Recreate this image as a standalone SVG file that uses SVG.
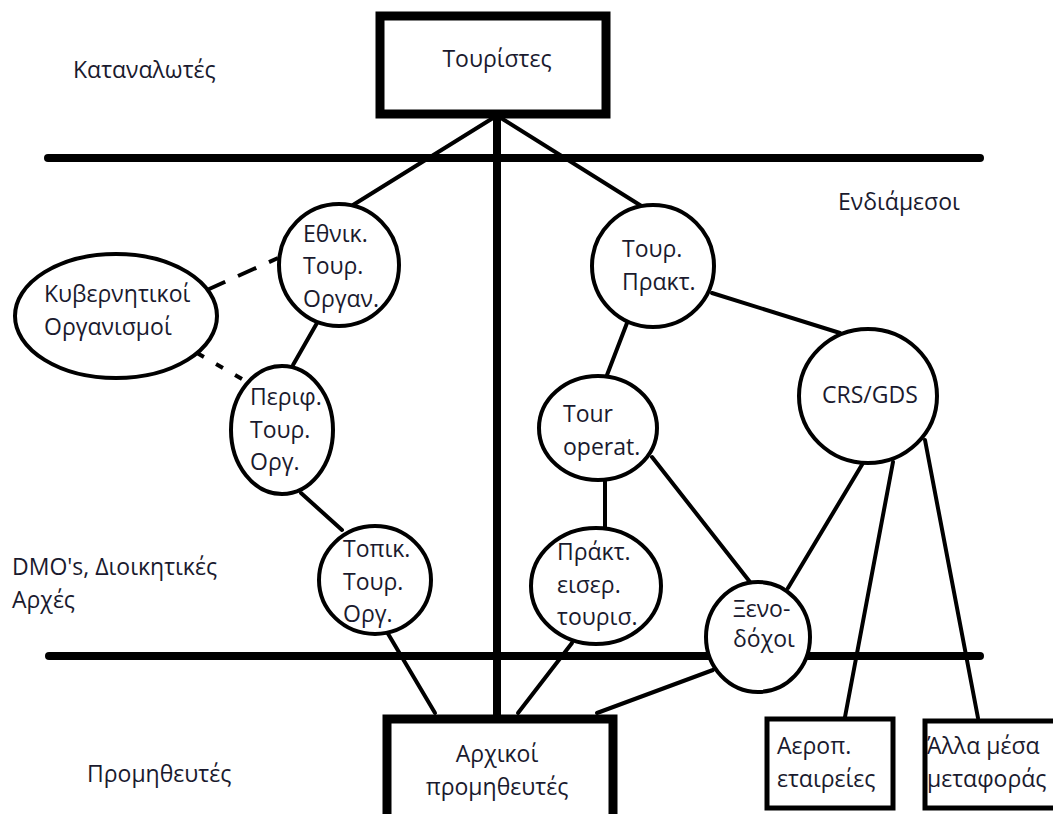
<svg xmlns="http://www.w3.org/2000/svg" width="1053" height="814" viewBox="0 0 1053 814">
<style>
text{font-family:"Open Sans","Noto Sans","DejaVu Sans",sans-serif;font-size:23px;fill:#1a1a2e}
.n{fill:#fff;stroke:#000;stroke-width:4}
.box{fill:#fff;stroke:#000;stroke-width:9}
.sbox{fill:#fff;stroke:#000;stroke-width:5}
.c{stroke:#000;stroke-width:4;fill:none;stroke-linecap:round}
.d{stroke:#000;stroke-width:4;fill:none;stroke-dasharray:20 14}
.d2{stroke:#000;stroke-width:4;fill:none;stroke-dasharray:8 14}
.sep{stroke:#000;stroke-width:8;fill:none;stroke-linecap:round}
</style>
<rect width="1053" height="814" fill="#fff"/>
<g id="layers">
<line class="sep" x1="48" y1="158" x2="980" y2="158"/>
<line class="sep" x1="49" y1="656" x2="980" y2="656"/>
<text x="73" y="78">Καταναλωτές</text>
<text x="838" y="210">Ενδιάμεσοι</text>
<text x="12" y="575">DMO's, Διοικητικές</text>
<text x="12" y="608">Αρχές</text>
<text x="87" y="782">Προμηθευτές</text>
</g>
<g id="connectors">
<line class="sep" x1="497" y1="117" x2="497" y2="716" stroke-linecap="butt"/>
<line class="c" x1="493" y1="118" x2="353" y2="205"/>
<line class="c" x1="501" y1="118" x2="643" y2="207"/>
<line class="d" x1="207" y1="290" x2="278" y2="258"/>
<line class="d2" x1="197" y1="353" x2="247" y2="382"/>
<line class="c" x1="317" y1="323" x2="293" y2="365"/>
<line class="c" x1="301" y1="493" x2="342" y2="530"/>
<line class="c" x1="387" y1="632" x2="435" y2="713"/>
<line class="c" x1="572" y1="643" x2="518" y2="713"/>
<line class="c" x1="713" y1="670" x2="597" y2="713"/>
<line class="c" x1="605" y1="480" x2="605" y2="527"/>
<line class="c" x1="652" y1="457" x2="750" y2="582"/>
<line class="c" x1="627" y1="323" x2="607" y2="375"/>
<line class="c" x1="712" y1="293" x2="840" y2="333"/>
<line class="c" x1="863" y1="463" x2="788" y2="588"/>
<line class="c" x1="893" y1="462" x2="845" y2="717"/>
<line class="c" x1="925" y1="440" x2="978" y2="718"/>
</g>
<g id="touristes">
<rect class="box" x="380" y="16" width="226" height="98"/>
<text x="497" y="67" text-anchor="middle">Τουρίστες</text>
</g>
<g id="ethnik">
<ellipse class="n" cx="339" cy="265" rx="60" ry="61"/>
<text x="303" y="242">Εθνικ.</text>
<text x="303" y="274">Τουρ.</text>
<text x="303" y="307">Οργαν.</text>
</g>
<g id="kyvern">
<ellipse class="n" cx="116" cy="316" rx="101" ry="62"/>
<text x="44" y="302">Κυβερνητικοί</text>
<text x="44" y="335">Οργανισμοί</text>
</g>
<g id="perif">
<ellipse class="n" cx="282" cy="430" rx="51" ry="64"/>
<text x="250" y="405">Περιφ.</text>
<text x="250" y="438">Τουρ.</text>
<text x="250" y="470">Οργ.</text>
</g>
<g id="topik">
<ellipse class="n" cx="375" cy="580" rx="56" ry="54"/>
<text x="343" y="557">Τοπικ.</text>
<text x="343" y="590">Τουρ.</text>
<text x="343" y="622">Οργ.</text>
</g>
<g id="tourprakt">
<ellipse class="n" cx="653" cy="266" rx="61" ry="61"/>
<text x="622" y="257">Τουρ.</text>
<text x="622" y="290">Πρακτ.</text>
</g>
<g id="touroperat">
<ellipse class="n" cx="598" cy="428" rx="59" ry="52"/>
<text x="563" y="422">Tour</text>
<text x="563" y="455">operat.</text>
</g>
<g id="crsgds">
<ellipse class="n" cx="868" cy="396" rx="69" ry="67"/>
<text x="822" y="403">CRS/GDS</text>
</g>
<g id="praktiseis">
<ellipse class="n" cx="596" cy="586" rx="65" ry="58"/>
<text x="557" y="560">Πράκτ.</text>
<text x="557" y="593">εισερ.</text>
<text x="557" y="625">τουρισ.</text>
</g>
<g id="xenodoxoi">
<ellipse class="n" cx="758" cy="637" rx="52" ry="55"/>
<text x="733" y="617">Ξενο-</text>
<text x="733" y="647">δόχοι</text>
</g>
<g id="arxikoi">
<rect class="box" x="387" y="719" width="226" height="110"/>
<text x="497" y="762" text-anchor="middle">Αρχικοί</text>
<text x="497" y="795" text-anchor="middle">προμηθευτές</text>
</g>
<g id="aerop">
<rect class="sbox" x="767" y="719" width="126" height="89"/>
<text x="777" y="754">Αεροπ.</text>
<text x="777" y="787">εταιρείες</text>
</g>
<g id="alla">
<rect class="sbox" x="925" y="721" width="140" height="87"/>
<text x="927" y="754">Άλλα μέσα</text>
<text x="927" y="787">μεταφοράς</text>
</g>
</svg>
